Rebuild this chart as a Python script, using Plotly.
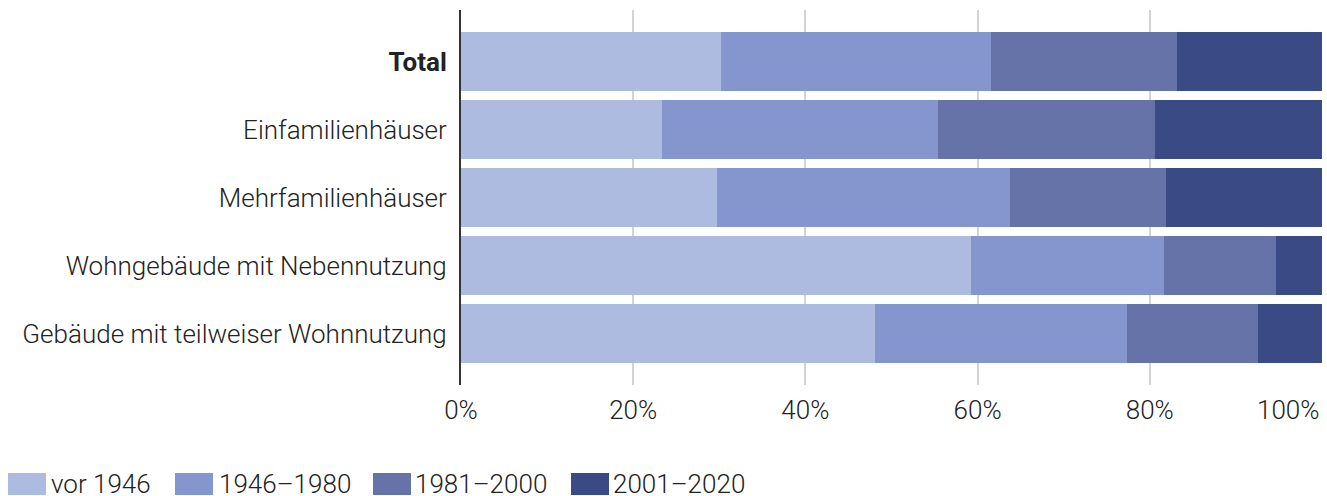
import plotly.graph_objects as go

categories = ["Total", "Einfamilienhäuser", "Mehrfamilienhäuser",
              "Wohngebäude mit Nebennutzung", "Gebäude mit teilweiser Wohnnutzung"]
cat_labels = ["<b>Total</b>", "Einfamilienhäuser", "Mehrfamilienhäuser",
              "Wohngebäude mit Nebennutzung", "Gebäude mit teilweiser Wohnnutzung"]

series_names = ["vor 1946", "1946–1980", "1981–2000", "2001–2020"]
vor_1946 = [30.2, 23.3, 29.7, 59.2, 48.1]
p1946_1980 = [31.3, 32.1, 34.1, 22.5, 29.2]
p1981_2000 = [21.7, 25.2, 18.1, 13.0, 15.3]
p2001_2020 = [16.8, 19.4, 18.1, 5.3, 7.4]
series_values = [vor_1946, p1946_1980, p1981_2000, p2001_2020]
colors = ["#aebbe0", "#8596cf", "#6573a8", "#394a84"]

x_tickvals = [0, 20, 40, 60, 80, 100]
x_ticktext = ["0%", "20%", "40%", "60%", "80%", ""]

FONT = "Roboto"
FS = 26
W, H = 1327, 496
ML, MR, MT, MB = 461, 5, 10, 111

fig = go.Figure()
for name, vals, col in zip(series_names, series_values, colors):
    fig.add_trace(go.Bar(
        y=categories, x=vals, name=name, orientation="h",
        marker=dict(color=col, line=dict(width=0)),
        showlegend=False, hoverinfo="x+y",
    ))

n = len(categories)
pad = 0.757
tf = dict(family=FONT, size=FS, color="#222", weight=300)
fig.update_layout(
    width=W, height=H,
    margin=dict(l=ML, r=MR, t=MT, b=MB, autoexpand=False),
    barmode="stack", bargap=0.132,
    plot_bgcolor="white", paper_bgcolor="white",
    font=tf,
    xaxis=dict(
        range=[0, 100], tickvals=x_tickvals, ticktext=x_ticktext,
        showgrid=True, gridcolor="#d3d3d3", gridwidth=2,
        zeroline=False, showline=False,
        ticks="outside", ticklen=2, tickcolor="rgba(0,0,0,0)",
        tickfont=tf,
    ),
    yaxis=dict(
        categoryorder="array", categoryarray=categories,
        tickvals=categories, ticktext=cat_labels,
        range=[n - 1 + pad, -pad],
        showline=True, linecolor="#333", linewidth=2,
        showgrid=False, zeroline=False,
        ticks="outside", ticklen=7, tickcolor="rgba(0,0,0,0)",
        tickfont=tf,
    ),
)

# right-aligned last x tick label
fig.add_annotation(
    x=100, xref="x", y=0, yref="paper", yshift=-8,
    text="100%", showarrow=False, xanchor="right", yanchor="top",
    font=tf,
)

# manual legend
leg_sq_x = [8, 175, 373, 571]
leg_tx_x = [52, 220, 416, 614]
sq_w, sq_h = 38, 22
sq_top = 473
pw, ph = W - ML - MR, H - MT - MB
for name, col, sx, tx in zip(series_names, colors, leg_sq_x, leg_tx_x):
    fig.add_shape(
        type="rect", xref="paper", yref="paper",
        x0=(sx - ML) / pw, x1=(sx + sq_w - ML) / pw,
        y0=(H - MB - (sq_top + sq_h)) / ph,
        y1=(H - MB - sq_top) / ph,
        fillcolor=col, line=dict(width=0), layer="above",
    )
    fig.add_annotation(
        x=(tx - ML) / pw, xref="paper",
        y=(H - MB - (sq_top + sq_h / 2)) / ph, yref="paper",
        text=name, showarrow=False, xanchor="left", yanchor="middle",
        xshift=-2, borderpad=0, font=tf,
    )

fig.write_html(
    "out.html",
    config={"displayModeBar": False},
    post_script="document.body.style.margin='0';document.body.style.overflow='hidden';",
)
